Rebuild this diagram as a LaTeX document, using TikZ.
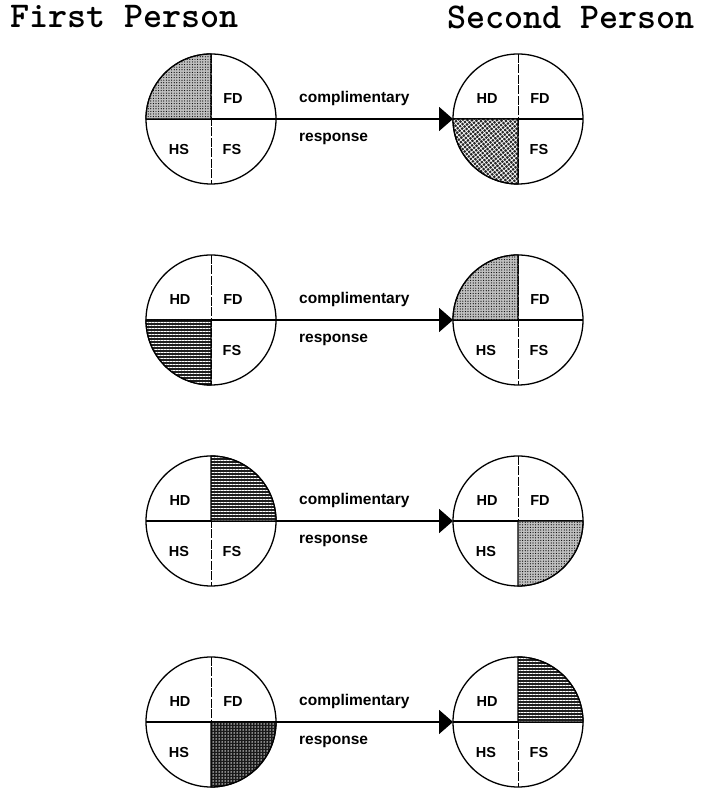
\documentclass[tikz,border=0pt]{standalone}
\usepackage{fontspec}
\setmainfont{Liberation Sans}
\usetikzlibrary{arrows.meta,positioning,patterns.meta}

\begin{document}
\begin{tikzpicture}[x=1pt, y=1pt, node distance=71pt and 177pt,
    every node/.style={inner sep=0pt},
    disc/.style={circle, draw, line width=1.3pt, minimum size=130pt, outer sep=0pt},
    split/.style={line width=1.8pt},
    seam/.style={line width=0.6pt, dash pattern=on 9pt off 1.5pt},
    quad/.style={font=\bfseries\fontsize{14.5}{15}\selectfont, anchor=base},
    cue/.style={font=\bfseries\fontsize{15.5}{16}\selectfont, anchor=base west},
    title/.style={font=\ttfamily\bfseries\fontsize{36.3}{37}\selectfont, anchor=base west},
    reply/.style={line width=1.8pt, -{Triangle[length=14pt, width=24pt]}},
    stipple/.style={line width=1.3pt, preaction={fill=black!25}, pattern={Dots[distance=2.6pt, radius=0.6pt]}, pattern color=black},
    lined/.style={line width=1.3pt, preaction={fill=black!88}, pattern={Lines[angle=0, distance=3pt, line width=0.8pt]}, pattern color=white},
    hatched/.style={line width=1.3pt, preaction={fill=black!85}, pattern={Hatch[angle=40, distance=3.2pt, line width=0.7pt]}, pattern color=white},
    speckled/.style={line width=1.3pt, preaction={fill=black!90}, pattern={Dots[distance=3pt, radius=0.75pt]}, pattern color=white}]
  \useasboundingbox (0,0) rectangle (705,790);

  % titles
  \node[title] (first) at (10,762) {First Person};
  \node[title] (second) at (447,761) {Second Person};

  % the eight circles
  \node[disc] (fp1) at (211,671) {};
  \node[disc, right=of fp1] (sp1) {};
  \node[disc, below=of fp1] (fp2) {};
  \node[disc, right=of fp2] (sp2) {};
  \node[disc, below=of fp2] (fp3) {};
  \node[disc, right=of fp3] (sp3) {};
  \node[disc, below=of fp3] (fp4) {};
  \node[disc, right=of fp4] (sp4) {};

  % quadrant lines
  \foreach \c in {fp1,sp1,fp2,sp2,fp3,sp3,fp4,sp4} {
    \draw[split] (\c.west) -- (\c.east);
    \draw[seam] (\c.north) -- (\c.south);
  }

  % shaded quadrants
  \draw[stipple] (fp1.center) -- (fp1.west) arc[start angle=180, end angle=90, radius=65] -- cycle;
  \draw[hatched] (sp1.center) -- (sp1.west) arc[start angle=180, end angle=270, radius=65] -- cycle;
  \draw[lined] (fp2.center) -- (fp2.west) arc[start angle=180, end angle=270, radius=65] -- cycle;
  \draw[stipple] (sp2.center) -- (sp2.west) arc[start angle=180, end angle=90, radius=65] -- cycle;
  \draw[lined] (fp3.center) -- (fp3.north) arc[start angle=90, end angle=0, radius=65] -- cycle;
  \draw[stipple] (sp3.center) -- (sp3.south) arc[start angle=270, end angle=360, radius=65] -- cycle;
  \draw[speckled] (fp4.center) -- (fp4.south) arc[start angle=270, end angle=360, radius=65] -- cycle;
  \draw[lined] (sp4.center) -- (sp4.north) arc[start angle=90, end angle=0, radius=65] -- cycle;

  % quadrant labels
  \node[quad] at ([shift={(22,15.5)}]fp1.center) {FD};
  \node[quad] at ([shift={(-32,-35.5)}]fp1.center) {HS};
  \node[quad] at ([shift={(21,-35.5)}]fp1.center) {FS};
  \node[quad] at ([shift={(-31,15.5)}]sp1.center) {HD};
  \node[quad] at ([shift={(22,15.5)}]sp1.center) {FD};
  \node[quad] at ([shift={(21,-35.5)}]sp1.center) {FS};

  \node[quad] at ([shift={(-31,15.5)}]fp2.center) {HD};
  \node[quad] at ([shift={(22,15.5)}]fp2.center) {FD};
  \node[quad] at ([shift={(21,-35.5)}]fp2.center) {FS};
  \node[quad] at ([shift={(22,15.5)}]sp2.center) {FD};
  \node[quad] at ([shift={(-32,-35.5)}]sp2.center) {HS};
  \node[quad] at ([shift={(21,-35.5)}]sp2.center) {FS};

  \node[quad] at ([shift={(-31,15.5)}]fp3.center) {HD};
  \node[quad] at ([shift={(-32,-35.5)}]fp3.center) {HS};
  \node[quad] at ([shift={(21,-35.5)}]fp3.center) {FS};
  \node[quad] at ([shift={(-31,15.5)}]sp3.center) {HD};
  \node[quad] at ([shift={(22,15.5)}]sp3.center) {FD};
  \node[quad] at ([shift={(-32,-35.5)}]sp3.center) {HS};

  \node[quad] at ([shift={(-31,15.5)}]fp4.center) {HD};
  \node[quad] at ([shift={(22,15.5)}]fp4.center) {FD};
  \node[quad] at ([shift={(-32,-35.5)}]fp4.center) {HS};
  \node[quad] at ([shift={(-31,15.5)}]sp4.center) {HD};
  \node[quad] at ([shift={(-32,-35.5)}]sp4.center) {HS};
  \node[quad] at ([shift={(21,-35.5)}]sp4.center) {FS};

  % responses
  \foreach \r in {1,2,3,4} {
    \draw[reply] (fp\r.east) -- (sp\r.west);
    \node[cue] (up\r) at ([shift={(23,16)}]fp\r.east) {complimentary};
    \node[cue] (lo\r) at ([shift={(23,-23)}]fp\r.east) {response};
  }
\end{tikzpicture}
\end{document}
